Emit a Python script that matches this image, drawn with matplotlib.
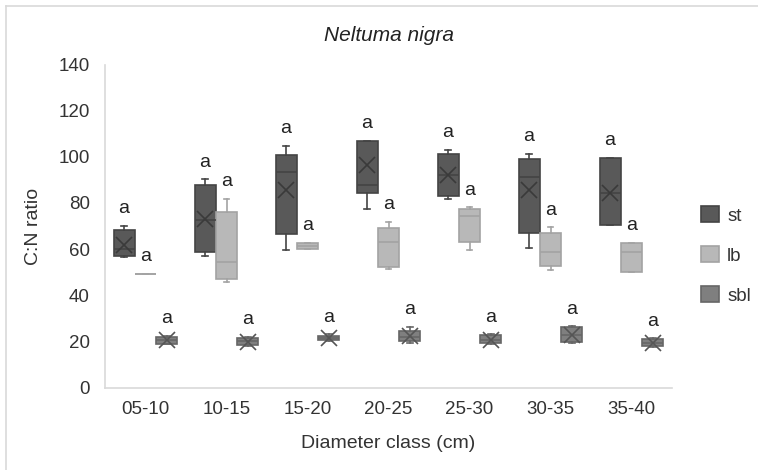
import matplotlib
matplotlib.use("Agg")
import matplotlib.pyplot as plt
from matplotlib.patches import Patch
from matplotlib.lines import Line2D

plt.rcParams["font.family"] = ["Liberation Sans", "DejaVu Sans"]

# ── 数据（从图中读取的箱线统计量）──
classes = ["05-10", "10-15", "15-20", "20-25", "25-30", "30-35", "35-40"]
series = ["st", "lb", "sbl"]

st_lo = [56.6, 57.0, 59.6, 77.2, 81.6, 60.3, 70.4]
st_q1 = [57.0, 58.9, 66.5, 84.4, 83.1, 67.1, 70.4]
st_med = [59.9, 72.5, 93.5, 87.8, 92.0, 91.1, 84.4]
st_q3 = [68.3, 87.8, 100.8, 107.0, 101.2, 99.2, 99.6]
st_hi = [70.0, 90.2, 104.8, 107.0, 103.0, 101.1, 99.6]
st_mean = [61.8, 72.9, 85.6, 96.4, 92.1, 85.6, 84.4]

lb_lo = [49.2, 45.6, 59.9, 51.5, 59.6, 50.9, 50.2]
lb_q1 = [49.2, 47.0, 59.9, 52.1, 62.9, 52.7, 50.2]
lb_med = [49.2, 54.5, 61.2, 63.2, 74.3, 58.9, 58.9]
lb_q3 = [49.2, 76.0, 62.5, 69.0, 77.4, 66.8, 62.8]
lb_hi = [49.2, 81.7, 62.8, 71.9, 78.1, 69.4, 62.8]
lb_mean = [49.2, 58.0, 61.2, 62.0, 71.0, 59.0, 57.3]

sbl_lo = [18.8, 18.0, 20.0, 19.4, 18.7, 19.3, 17.4]
sbl_q1 = [19.0, 18.4, 20.5, 20.3, 19.2, 19.6, 17.8]
sbl_med = [20.5, 20.0, 21.6, 22.0, 20.8, 22.8, 19.3]
sbl_q3 = [22.0, 21.4, 22.5, 24.6, 22.6, 26.1, 21.0]
sbl_hi = [22.5, 21.8, 23.0, 26.1, 23.0, 26.5, 21.3]
sbl_mean = [20.4, 19.9, 21.6, 22.3, 20.8, 22.8, 19.3]

letters = ["a"] * 7

# 样式
fills = {"st": "#595959", "lb": "#b8b8b8", "sbl": "#7f7f7f"}
edges = {"st": "#444444", "lb": "#a3a3a3", "sbl": "#666666"}
means = {"st": "#3a3a3a", "lb": "#b0b0b0", "sbl": "#555555"}
show_mean = {"st": True, "lb": False, "sbl": True}   # lb 的均值标记在原图中看不出
offsets = {"st": -0.265, "lb": 0.0, "sbl": 0.265}
stats_by_series = {
    "st": (st_lo, st_q1, st_med, st_q3, st_hi, st_mean),
    "lb": (lb_lo, lb_q1, lb_med, lb_q3, lb_hi, lb_mean),
    "sbl": (sbl_lo, sbl_q1, sbl_med, sbl_q3, sbl_hi, sbl_mean),
}
txt = "#333333"

fig = plt.figure(figsize=(7.58, 4.70), dpi=100)
ax = fig.add_axes([105 / 758, 1 - 387.5 / 470, 567 / 758, 323 / 470])

bw = 0.26
for name in series:
    lo, q1, med, q3, hi, mn = stats_by_series[name]
    stats = []
    for i in range(len(classes)):
        stats.append(dict(whislo=lo[i], q1=q1[i], med=med[i], q3=q3[i],
                          whishi=hi[i], mean=mn[i], fliers=[]))
    pos = [i + 0.5 + offsets[name] for i in range(len(classes))]
    ax.bxp(stats, positions=pos, widths=bw, capwidths=0.07,
           showmeans=show_mean[name], patch_artist=True, manage_ticks=False,
           boxprops=dict(facecolor=fills[name], edgecolor=edges[name], linewidth=1.2),
           medianprops=dict(color=edges[name], linewidth=1.2),
           whiskerprops=dict(color=edges[name], linewidth=1.2),
           capprops=dict(color=edges[name], linewidth=1.2),
           meanprops=dict(marker="x", markersize=12, markeredgewidth=1.2,
                          markeredgecolor=means[name]))
    for i in range(len(classes)):
        ax.text(pos[i], hi[i] + 7.5, letters[i], ha="center", va="center",
                fontsize=14, color="#222222")

ax.set_xlim(0, len(classes))
ax.set_ylim(0, 140)
ax.set_yticks(range(0, 141, 20))
ax.set_xticks([i + 0.5 for i in range(len(classes))])
ax.set_xticklabels(classes)
ax.tick_params(length=0, labelsize=13.5, labelcolor=txt)
ax.tick_params(axis="y", pad=11)
ax.tick_params(axis="x", pad=10)
for s in ["top", "right"]:
    ax.spines[s].set_visible(False)
for s in ["left", "bottom"]:
    ax.spines[s].set_color("#d9d9d9")
    ax.spines[s].set_linewidth(1.2)

ax.set_title("Neltuma nigra", fontstyle="italic", fontsize=15, color="#222222", pad=17)
ax.set_xlabel("Diameter class (cm)", fontsize=14, color=txt, labelpad=12)
ax.set_ylabel("C:N ratio", fontsize=14, color=txt, labelpad=12)

handles = [Patch(facecolor=fills[n], edgecolor=edges[n], linewidth=1.2, label=n) for n in series]
fig.legend(handles=handles, loc="upper left", bbox_to_anchor=(701 / 758, 1 - 206 / 470),
           frameon=False, fontsize=13.5, handlelength=0.95, handleheight=0.95,
           labelspacing=1.15, handletextpad=0.45, borderpad=0, borderaxespad=0,
           labelcolor=txt)

# 外框
fig.add_artist(Line2D([6 / 758, 6 / 758], [0, 1 - 6 / 470], transform=fig.transFigure,
                      color="#d9d9d9", linewidth=1.2))
fig.add_artist(Line2D([6 / 758, 1], [1 - 6 / 470, 1 - 6 / 470], transform=fig.transFigure,
                      color="#d9d9d9", linewidth=1.2))

fig.savefig("out.png", dpi=100)
